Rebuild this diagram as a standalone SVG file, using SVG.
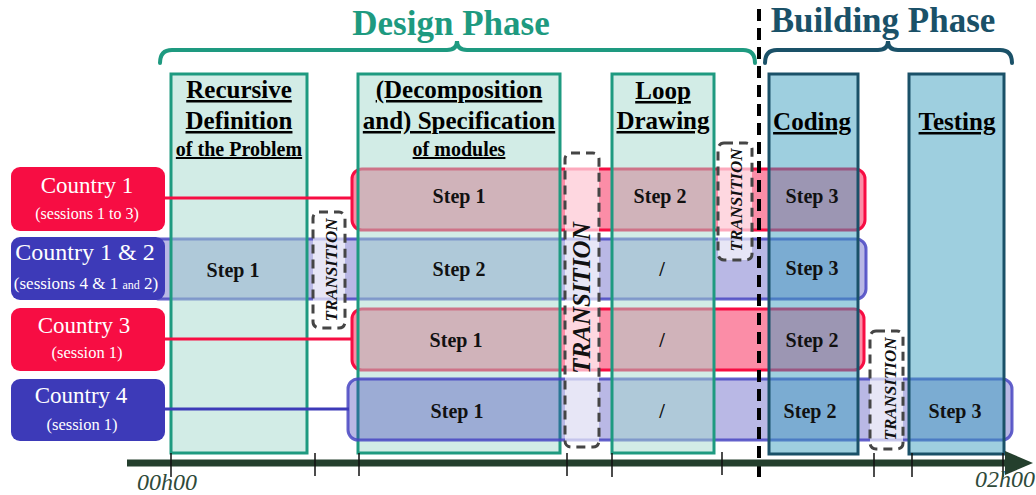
<svg xmlns="http://www.w3.org/2000/svg" width="1036" height="495" viewBox="0 0 1036 495">
<style>
.title{font-family:"Liberation Serif",serif;font-weight:bold;font-size:35px;text-anchor:middle}
.hdr{font-family:"Liberation Serif",serif;font-weight:bold;font-size:25px;text-anchor:middle;text-decoration:underline;fill:#000}
.hdrs{font-family:"Liberation Serif",serif;font-weight:bold;font-size:20px;text-anchor:middle;text-decoration:underline;fill:#000}
.brace{fill:none;stroke-width:4;stroke-linecap:round}
.col{fill:#a5d9cd;fill-opacity:0.5;stroke:#1e9a80;stroke-width:3}
.bcol{fill:#3d9fbf;fill-opacity:0.5;stroke:#1a5168;stroke-width:3}
.rbar{fill:#f70d43;fill-opacity:0.47;stroke:#f70d43;stroke-width:3}
.bbar{fill:#3d3ab8;fill-opacity:0.36;stroke:#4845c2;stroke-opacity:0.85;stroke-width:3}
.rbox{fill:#f70d43}
.bbox{fill:#3d3ab8}
.ct{font-family:"Liberation Serif",serif;fill:#fff;text-anchor:middle}
.step{font-family:"Liberation Serif",serif;font-weight:bold;font-size:20px;text-anchor:middle;fill:#111}
.tr{fill:#fff;fill-opacity:0.65;stroke:#454545;stroke-width:3;stroke-dasharray:9 6}
.trt{font-family:"Liberation Serif",serif;font-weight:bold;font-style:italic;text-anchor:middle;fill:#111}
.tick{stroke:#111;stroke-width:1.5}
.axl{font-family:"Liberation Serif",serif;font-style:italic;font-size:24px;fill:#2f4a3a;text-anchor:middle}
</style>

<g id="design-phase">
<path class="brace" stroke="#1e9a80" d="M160,63 Q160,50 172,50 L447,50 Q457,50 457,41 Q457,50 467,50 L743,50 Q755,50 755,63"/>
<text class="title" x="451" y="35" fill="#1e9a80">Design Phase</text>
</g>
<g id="building-phase">
<path class="brace" stroke="#1a5168" d="M765,63 Q765,50 777,50 L878,50 Q888,50 888,41 Q888,50 898,50 L1000,50 Q1012,50 1012,63"/>
<text class="title" x="883" y="32" fill="#1a5168">Building Phase</text>
</g>

<g id="row-bars">
<rect id="bar-country1" class="rbar" x="352" y="169" width="513" height="61" rx="10"/>
<rect id="bar-country12" class="bbar" x="150" y="239" width="716" height="60" rx="10"/>
<rect id="bar-country3" class="rbar" x="352" y="309" width="512" height="61" rx="10"/>
</g>

<g id="col-specification">
<rect class="col" x="358" y="74" width="202" height="379"/>
<text class="hdr" x="459" y="98">(Decomposition</text>
<text class="hdr" x="459" y="129">and) Specification</text>
<text class="hdrs" x="459" y="156">of modules</text>
</g>

<g id="row-bar-4">
<rect id="bar-country4" class="bbar" x="348" y="379" width="664" height="61" rx="10"/>
</g>

<g id="col-recursive">
<rect class="col" x="171" y="74" width="136" height="379"/>
<text class="hdr" x="239" y="98">Recursive</text>
<text class="hdr" x="239" y="129">Definition</text>
<text class="hdrs" x="239" y="156">of the Problem</text>
</g>
<g id="col-loop">
<rect class="col" x="612" y="74" width="102" height="379"/>
<text class="hdr" x="663" y="99">Loop</text>
<text class="hdr" x="663" y="129">Drawing</text>
</g>
<g id="col-coding">
<rect class="bcol" x="769" y="74" width="89" height="380"/>
<text class="hdr" x="812" y="130">Coding</text>
</g>
<g id="col-testing">
<rect class="bcol" x="909" y="74" width="95" height="380"/>
<text class="hdr" x="957" y="130">Testing</text>
</g>

<g id="connectors">
<line x1="164" y1="198" x2="353" y2="198" stroke="#f70d43" stroke-width="3"/>
<line x1="164" y1="339" x2="353" y2="339" stroke="#f70d43" stroke-width="3"/>
<line x1="164" y1="409" x2="349" y2="409" stroke="#3d3ab8" stroke-width="3"/>
</g>

<g id="country1">
<rect class="rbox" x="11" y="167" width="154" height="64" rx="9"/>
<text class="ct" x="87" y="193" font-size="23">Country 1</text>
<text class="ct" x="87" y="219" font-size="16">(sessions 1 to 3)</text>
</g>
<g id="country12">
<rect class="bbox" x="11" y="237" width="154" height="63" rx="9"/>
<text class="ct" x="85" y="260" font-size="24">Country 1 &amp; 2</text>
<text class="ct" x="86" y="289" font-size="17">(sessions 4 &amp; 1 <tspan font-size="12">and</tspan> 2)</text>
</g>
<g id="country3">
<rect class="rbox" x="11" y="308" width="154" height="63" rx="9"/>
<text class="ct" x="84" y="333" font-size="23">Country 3</text>
<text class="ct" x="87" y="358" font-size="16.5">(session 1)</text>
</g>
<g id="country4">
<rect class="bbox" x="11" y="379" width="154" height="62" rx="9"/>
<text class="ct" x="81" y="403" font-size="23">Country 4</text>
<text class="ct" x="82" y="430" font-size="16.5">(session 1)</text>
</g>

<g id="transition1">
<rect class="tr" x="313" y="212" width="32" height="116" rx="6"/>
<text class="trt" font-size="17" transform="translate(337,270) rotate(-90)">TRANSITION</text>
</g>
<g id="transition2">
<rect class="tr" x="565" y="153" width="34" height="294" rx="6"/>
<text class="trt" font-size="25" transform="translate(590,298) rotate(-90)">TRANSITION</text>
</g>
<g id="transition3">
<rect class="tr" x="718" y="143" width="34" height="117" rx="6"/>
<text class="trt" font-size="17" transform="translate(742,200) rotate(-90)">TRANSITION</text>
</g>
<g id="transition4">
<rect class="tr" x="870" y="331" width="33" height="118" rx="6"/>
<text class="trt" font-size="17" transform="translate(896,389) rotate(-90)">TRANSITION</text>
</g>

<g id="steps">
<text class="step" x="459" y="203">Step 1</text>
<text class="step" x="660" y="203">Step 2</text>
<text class="step" x="812" y="203">Step 3</text>
<text class="step" x="233" y="277">Step 1</text>
<text class="step" x="459" y="276">Step 2</text>
<text class="step" x="662" y="276">/</text>
<text class="step" x="812" y="275">Step 3</text>
<text class="step" x="456" y="347">Step 1</text>
<text class="step" x="662" y="347">/</text>
<text class="step" x="812" y="347">Step 2</text>
<text class="step" x="457" y="418">Step 1</text>
<text class="step" x="662" y="418">/</text>
<text class="step" x="810" y="418">Step 2</text>
<text class="step" x="955" y="418">Step 3</text>
</g>

<g id="phase-divider">
<line x1="759" y1="9" x2="759" y2="481" stroke="#000" stroke-width="4" stroke-dasharray="12 7"/>
</g>

<g id="time-axis">
<rect x="127" y="459.5" width="882" height="7" fill="#243f2d"/>
<polygon points="1005,451 1033,463 1005,475" fill="#243f2d"/>
<line class="tick" x1="171" y1="453" x2="171" y2="477"/>
<line class="tick" x1="315" y1="453" x2="315" y2="476"/>
<line class="tick" x1="359" y1="453" x2="359" y2="476"/>
<line class="tick" x1="567" y1="453" x2="567" y2="476"/>
<line class="tick" x1="612" y1="453" x2="612" y2="477"/>
<line class="tick" x1="722" y1="452" x2="722" y2="475"/>
<line class="tick" x1="874" y1="453" x2="874" y2="477"/>
<line class="tick" x1="912" y1="453" x2="912" y2="477"/>
<line class="tick" x1="1003" y1="453" x2="1003" y2="477"/>
<text class="axl" x="167" y="490">00h00</text>
<text class="axl" x="1005" y="487">02h00</text>
</g>
</svg>
